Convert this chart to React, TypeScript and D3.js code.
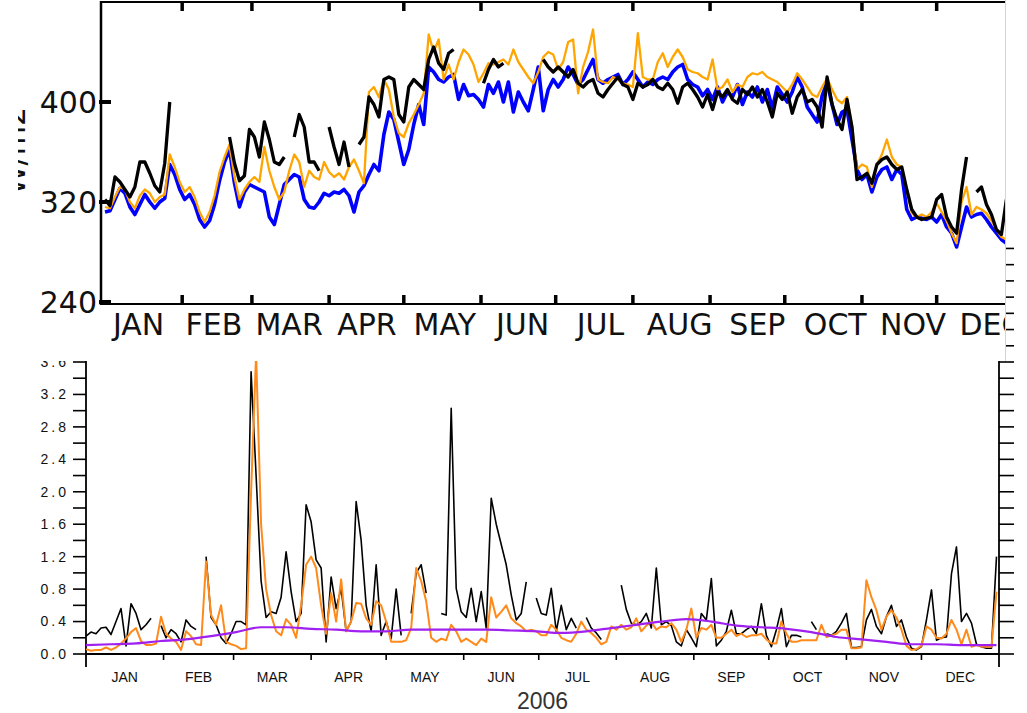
import React, { useEffect, useRef } from 'react';
import * as d3 from 'd3';

// month boundaries (day of year) and names
const monthStart = [0, 31, 59, 90, 120, 151, 181, 212, 243, 273, 304, 334, 365];
const monthNames = ['JAN', 'FEB', 'MAR', 'APR', 'MAY', 'JUN', 'JUL', 'AUG', 'SEP', 'OCT', 'NOV', 'DEC'];

// top panel (W/m2), one value every 2 days from 1 Jan
const topTicks = [240, 320, 400];
const topBlue = [
  312, 313, 322, 331, 327, 316, 310, 318, 326, 320,
  315, 320, 323, 350, 342, 330, 322, 326, 318, 306,
  300, 305, 318, 337, 352, 362, 335, 316, 328, 334,
  332, 330, 328, 308, 302, 318, 334, 338, 342, 340,
  322, 316, 315, 320, 327, 325, 328, 327, 330, 325,
  312, 328, 333, 342, 350, 345, 374, 392, 386, 368,
  350, 362, 382, 398, 382, 428, 424, 418, 416, 420,
  422, 402, 414, 405, 406, 402, 396, 414, 407, 416,
  400, 416, 392, 408, 400, 393, 410, 428, 393, 410,
  418, 412, 418, 428, 422, 414, 418, 426, 434, 418,
  415, 418, 420, 422, 414, 418, 424, 418, 412, 416,
  414, 418, 420, 418, 424, 428, 430, 418, 414, 412,
  405, 410, 402, 412, 400, 408, 404, 414, 398, 408,
  404, 412, 400, 410, 395, 412, 406, 400, 408, 420,
  412, 396, 390, 384, 405, 416, 398, 382, 392, 394,
  370, 346, 338, 342, 328, 340, 346, 348, 338, 346,
  342, 314, 306, 308, 307, 306, 308, 304, 310, 300,
  295, 284, 300, 316, 308, 310, 311, 306, 300, 295,
  290, 287, 285,
];
const topOrange = [
  316, 315, 324, 332, 330, 320, 315, 325, 330, 327,
  320, 324, 326, 358, 348, 336, 328, 332, 324, 312,
  304, 312, 325, 344, 356, 366, 340, 322, 330, 336,
  340, 336, 364, 345, 332, 322, 328, 345, 358, 352,
  332, 345, 340, 338, 352, 344, 340, 343, 338, 348,
  354, 345, 335, 408, 412, 404, 418, 410, 388, 375,
  372, 383, 390, 398, 407, 454, 440, 450, 418, 430,
  418, 432, 442, 438, 430, 416, 423, 431, 430, 432,
  434, 430, 442, 432, 426, 420, 415, 424, 436, 440,
  438, 426, 432, 448, 450, 407, 428, 440, 458, 418,
  416, 415, 420, 418, 415, 414, 412, 455, 420, 418,
  418, 432, 439, 428, 436, 442, 436, 426, 424, 423,
  420, 418, 434, 410, 412, 418, 408, 414, 412, 420,
  423, 422, 424, 420, 418, 416, 412, 408, 414, 423,
  418, 412, 406, 404, 412, 419, 410, 402, 399, 404,
  380, 346, 350, 348, 332, 350, 358, 370, 356, 350,
  348, 330, 311, 308, 310, 308, 312, 319, 312, 305,
  295, 287, 320, 332, 310, 316, 314, 311, 305, 298,
  292, 290, 288,
];
const topBlack = [
  322, 317, 340, 336, 330, 324, 332, 352, 352, 343,
  333, 328, 351, 400, null, null, null, null, null, null,
  null, null, null, null, null, 372, 351, 337, 341, 378,
  372, 356, 384, 370, 352, 350, 356, null, 372, 390,
  380, 352, 352, 345, null, 380, 364, 350, 368, 348,
  null, 366, 372, 404, 398, 388, 418, 420, 418, 390,
  384, 412, 418, 414, 410, 434, 444, 431, 426, 439,
  442, null, null, null, null, null, 415, 426, 434, 428,
  431, null, null, null, null, null, null, null, 434, 428,
  424, 428, 424, 420, 426, 415, 412, 416, 418, 407,
  404, 410, 415, 420, 414, 412, 402, 415, 412, 414,
  418, 412, 410, 415, 410, 399, 412, 415, 410, 404,
  396, 406, 394, 408, 404, 410, 402, 399, 410, 406,
  412, 404, 410, 400, 388, 407, 402, 408, 391, 404,
  410, 400, 402, 396, 380, 420, 398, 386, 378, 402,
  380, 338, 340, 343, 335, 350, 354, 356, 350, 346,
  348, 330, 314, 308, 306, 307, 308, 322, 326, 308,
  300, 295, 330, 356, null, 328, 332, 318, 310, 298,
  294, 322, null,
];

// bottom panel, one value every 2 days
const bottomTickLabels = ['0.0', '0.4', '0.8', '1.2', '1.6', '2.0', '2.4', '2.8', '3.2', '3.6'];
const bottomBlack = [
  0.22, 0.27, 0.25, 0.32, 0.33, 0.24, 0.40, 0.56, 0.10, 0.62,
  0.50, 0.30, 0.36, 0.44, null, 0.35, 0.20, 0.30, 0.25, 0.15,
  0.42, 0.34, 0.30, null, 1.20, 0.45, 0.36, 0.20, 0.13, 0.25,
  0.40, 0.40, 0.36, 3.48, 2.20, 0.90, 0.45, 0.52, 0.50, 0.70,
  1.26, 0.77, 0.40, 0.50, 1.84, 1.63, 1.16, 1.06, 0.15, 0.95,
  0.56, 0.81, 0.28, 0.40, 1.88, 1.40, 0.60, 0.28, 1.10, 0.23,
  0.40, 0.19, 0.80, 0.23, null, 0.50, 1.00, 1.10, 0.75, null,
  null, 0.50, 0.48, 3.03, 0.81, 0.52, 0.45, 0.81, 0.40, 0.77,
  0.32, 1.92, 1.60, 1.35, 1.10, 0.73, 0.42, 0.50, 0.89, null,
  0.69, 0.50, 0.48, 0.81, 0.28, 0.60, 0.30, 0.44, 0.32, null,
  0.45, 0.32, 0.26, 0.18, null, 0.36, null, 0.85, 0.55, 0.38,
  0.36, 0.40, 0.50, 0.32, 1.06, 0.36, 0.40, 0.35, 0.15, 0.10,
  0.30, 0.20, 0.09, 0.50, 0.42, 0.93, 0.10, 0.17, 0.28, 0.54,
  0.25, 0.25, 0.30, 0.34, 0.25, 0.62, 0.23, 0.09, 0.30, 0.56,
  0.09, 0.23, 0.23, 0.21, null, 0.40, 0.30, null, 0.25, 0.23,
  0.28, 0.38, 0.50, 0.08, 0.08, 0.09, 0.42, 0.55, 0.34, 0.25,
  0.46, 0.60, 0.34, 0.42, 0.21, 0.07, 0.05, 0.09, 0.42, 0.79,
  0.17, 0.20, 0.21, 0.99, 1.32, 0.40, 0.50, 0.38, 0.12, 0.09,
  0.07, 0.07, 1.20,
];
const bottomOrange = [
  0.06, 0.04, 0.05, 0.05, 0.08, 0.05, 0.08, 0.13, 0.19, 0.27,
  0.32, 0.16, 0.11, 0.11, 0.13, 0.46, 0.25, 0.19, 0.15, 0.05,
  0.28, 0.22, 0.12, 0.11, 1.14, 0.48, 0.36, 0.60, 0.15, 0.12,
  0.10, 0.06, 0.07, 2.00, 3.70, 1.60, 0.80, 0.48, 0.28, 0.23,
  0.43, 0.36, 0.20, 0.60, 1.10, 1.20, 1.06, 0.60, 0.25, 0.75,
  0.40, 0.92, 0.28, 0.40, 0.63, 0.62, 0.44, 0.36, 0.65, 0.60,
  0.40, 0.15, 0.15, 0.15, 0.17, 0.32, 1.06, 0.90, 0.65, 0.20,
  0.15, 0.19, 0.17, 0.36, 0.28, 0.15, 0.19, 0.15, 0.11, 0.19,
  0.15, 0.70, 0.45, 0.52, 0.60, 0.44, 0.38, 0.34, 0.28, 0.30,
  0.28, 0.23, 0.23, 0.36, 0.30, 0.20, 0.17, 0.15, 0.25, 0.40,
  0.30, 0.26, 0.20, 0.12, 0.15, 0.34, 0.30, 0.36, 0.30, 0.33,
  0.44, 0.28, 0.35, 0.40, 0.30, 0.34, 0.33, 0.38, 0.30, 0.15,
  0.30, 0.56, 0.20, 0.32, 0.30, 0.36, 0.20, 0.20, 0.25, 0.30,
  0.22, 0.25, 0.21, 0.23, 0.23, 0.25, 0.18, 0.13, 0.13, 0.40,
  0.25, 0.15, 0.15, 0.17, 0.17, 0.17, 0.17, 0.36, 0.21, 0.23,
  0.25, 0.30, 0.30, 0.07, 0.07, 0.08, 0.91, 0.70, 0.54, 0.30,
  0.46, 0.54, 0.45, 0.30, 0.10, 0.05, 0.06, 0.10, 0.34, 0.30,
  0.20, 0.19, 0.25, 0.42, 0.30, 0.12, 0.30, 0.09, 0.11, 0.09,
  0.09, 0.09, 0.77,
];
// smooth climatology, every 10 days
const purpleDays = [0, 10, 20, 30, 40, 50, 60, 70, 80, 90, 100, 110, 120, 130, 140, 150, 160, 170, 180,
  190, 200, 210, 220, 230, 240, 250, 260, 270, 280, 290, 300, 310, 320, 330, 340, 350, 360, 364];
const bottomPurple = [0.11, 0.12, 0.13, 0.16, 0.18, 0.22, 0.27, 0.33, 0.33, 0.31, 0.30, 0.28, 0.28,
  0.30, 0.30, 0.30, 0.30, 0.29, 0.28, 0.26, 0.28, 0.32, 0.36, 0.40, 0.43, 0.40, 0.35, 0.33, 0.31,
  0.27, 0.21, 0.18, 0.15, 0.12, 0.12, 0.11, 0.11, 0.11];

const App = () => {
  const ref = useRef<HTMLDivElement>(null);

  useEffect(() => {
    const root = d3.select(ref.current);
    root.selectAll('*').remove();
    const svg = root.append('svg')
      .attr('width', 1027).attr('height', 713)
      .style('position', 'absolute').style('left', '0px').style('top', '0px')
      .style('background', '#fff');

    const days = d3.range(0, 365, 2);
    const defs = svg.append('defs');

    // ---------- bottom panel ----------
    const bx = d3.scaleLinear().domain([0, 365]).range([86, 999]);
    const by = d3.scaleLinear().domain([0, 3.6]).range([654, 362]);
    const bg = svg.append('g');
    const sans = 'Liberation Sans, Arial, sans-serif';

    const tickVals = d3.range(0, 26).map(i => i * 0.2);
    bg.selectAll('.lt').data(tickVals).enter().append('line')
      .attr('x1', 73).attr('x2', 86).attr('y1', d => by(d)).attr('y2', d => by(d))
      .attr('stroke', '#000').attr('stroke-width', 1.6);
    bg.selectAll('.rt').data(tickVals).enter().append('line')
      .attr('x1', 999).attr('x2', 1014).attr('y1', d => by(d)).attr('y2', d => by(d))
      .attr('stroke', '#000').attr('stroke-width', 1.6);
    bg.append('line').attr('x1', 86).attr('x2', 86).attr('y1', by(5.2)).attr('y2', 667)
      .attr('stroke', '#000').attr('stroke-width', 1.8);
    bg.append('line').attr('x1', 999).attr('x2', 999).attr('y1', by(5.2)).attr('y2', 667)
      .attr('stroke', '#000').attr('stroke-width', 1.8);
    bg.append('line').attr('x1', 86).attr('x2', 999).attr('y1', by(0)).attr('y2', by(0))
      .attr('stroke', '#000').attr('stroke-width', 1.8);
    bg.selectAll('.mt').data(monthStart.slice(1, 12)).enter().append('line')
      .attr('x1', d => bx(d)).attr('x2', d => bx(d)).attr('y1', by(0)).attr('y2', by(0) + 6)
      .attr('stroke', '#000').attr('stroke-width', 1.6);

    bg.selectAll('.yl').data(bottomTickLabels).enter().append('text')
      .attr('x', 69).attr('y', d => by(+d)).attr('dy', '0.35em')
      .attr('text-anchor', 'end').attr('font-family', sans).attr('font-size', 14)
      .attr('letter-spacing', 3).attr('fill', '#111').text(d => d);
    bg.selectAll('.ml').data(monthNames).enter().append('text')
      .attr('x', (d, i) => bx((monthStart[i] + monthStart[i + 1]) / 2)).attr('y', 682)
      .attr('text-anchor', 'middle').attr('font-family', sans).attr('font-size', 14)
      .attr('fill', '#111').text(d => d);
    bg.append('text').attr('x', (bx(0) + bx(365)) / 2).attr('y', 709)
      .attr('text-anchor', 'middle').attr('font-family', sans).attr('font-size', 23)
      .attr('fill', '#333').text('2006');

    const bLine = d3.line<number | null>()
      .defined(v => v != null)
      .x((v, i) => bx(days[i]))
      .y(v => by(v as number));
    bg.append('path').attr('d', bLine(bottomBlack)).attr('fill', 'none')
      .attr('stroke', '#000').attr('stroke-width', 1.6).attr('stroke-linejoin', 'round');
    bg.append('path').attr('d', bLine(bottomOrange)).attr('fill', 'none')
      .attr('stroke', '#ff8a1c').attr('stroke-width', 2).attr('stroke-linejoin', 'round');
    const pLine = d3.line<number>()
      .x((v, i) => bx(purpleDays[i]))
      .y(v => by(v))
      .curve(d3.curveMonotoneX);
    bg.append('path').attr('d', pLine(bottomPurple)).attr('fill', 'none')
      .attr('stroke', '#a020f0').attr('stroke-width', 2.2);

    // ---------- top panel (pasted over the bottom one) ----------
    svg.append('rect').attr('x', 0).attr('y', 0).attr('width', 1005).attr('height', 361).attr('fill', '#fff');
    svg.append('line').attr('x1', 1005.5).attr('x2', 1005.5).attr('y1', 0).attr('y2', 361)
      .attr('stroke', '#d4d4d4').attr('stroke-width', 1);

    defs.append('clipPath').attr('id', 'plotClip').append('rect')
      .attr('x', 101).attr('y', 2).attr('width', 904).attr('height', 302);
    defs.append('clipPath').attr('id', 'panelClip').append('rect')
      .attr('x', 18).attr('y', 0).attr('width', 987).attr('height', 361);

    const tx = d3.scaleLinear().domain([0, 365]).range([105, 105 + 365 * 2.49]);
    const labelX = d3.scaleLinear().domain([0, 365]).range([99, 99 + 365 * 2.552]);
    const ty = d3.scaleLinear().domain([240, 480]).range([302, 2]);
    const tg = svg.append('g').attr('clip-path', 'url(#panelClip)');
    const dv = 'DejaVu Sans, sans-serif';

    const tLine = d3.line<number | null>()
      .defined(v => v != null)
      .x((v, i) => tx(days[i]))
      .y(v => ty(v as number));
    const lines = tg.append('g').attr('clip-path', 'url(#plotClip)');
    lines.append('path').attr('d', tLine(topBlue)).attr('fill', 'none')
      .attr('stroke', '#0000ff').attr('stroke-width', 3.6).attr('stroke-linejoin', 'round');
    lines.append('path').attr('d', tLine(topOrange)).attr('fill', 'none')
      .attr('stroke', '#ffa500').attr('stroke-width', 2.3).attr('stroke-linejoin', 'round');
    lines.append('path').attr('d', tLine(topBlack)).attr('fill', 'none')
      .attr('stroke', '#000').attr('stroke-width', 3.3).attr('stroke-linejoin', 'round');

    tg.append('line').attr('x1', 101).attr('x2', 101).attr('y1', 1).attr('y2', 305)
      .attr('stroke', '#000').attr('stroke-width', 2.5);
    tg.append('line').attr('x1', 101).attr('x2', 1005).attr('y1', 2).attr('y2', 2)
      .attr('stroke', '#000').attr('stroke-width', 2);
    tg.append('line').attr('x1', 101).attr('x2', 1005).attr('y1', 304).attr('y2', 304)
      .attr('stroke', '#000').attr('stroke-width', 2);
    tg.selectAll('.tt').data(monthStart.slice(1, 12)).enter().append('line')
      .attr('x1', d => tx(d)).attr('x2', d => tx(d)).attr('y1', 2).attr('y2', 11)
      .attr('stroke', '#000').attr('stroke-width', 3.5);
    tg.selectAll('.bt').data(monthStart.slice(1, 12)).enter().append('line')
      .attr('x1', d => tx(d)).attr('x2', d => tx(d)).attr('y1', 295).attr('y2', 304)
      .attr('stroke', '#000').attr('stroke-width', 3.5);
    tg.selectAll('.yt').data(topTicks).enter().append('line')
      .attr('x1', 99).attr('x2', 111).attr('y1', d => ty(d)).attr('y2', d => ty(d))
      .attr('stroke', '#000').attr('stroke-width', 4);
    tg.selectAll('.ytl').data(topTicks).enter().append('text')
      .attr('x', 97).attr('y', d => ty(d)).attr('dy', '0.36em')
      .attr('text-anchor', 'end').attr('font-family', dv).attr('font-size', 30)
      .attr('fill', '#111').text(d => d);
    tg.selectAll('.tml').data(monthNames).enter().append('text')
      .attr('x', (d, i) => labelX((monthStart[i] + monthStart[i + 1]) / 2)).attr('y', 335)
      .attr('text-anchor', 'middle').attr('font-family', dv).attr('font-size', 30)
      .attr('fill', '#111').text(d => d);
    tg.append('text').attr('transform', 'translate(25,151) rotate(-90)')
      .attr('text-anchor', 'middle').attr('font-family', dv).attr('font-size', 30)
      .attr('fill', '#111').text('W/m2');
  }, []);

  return <div ref={ref}></div>;
};

export default App;
